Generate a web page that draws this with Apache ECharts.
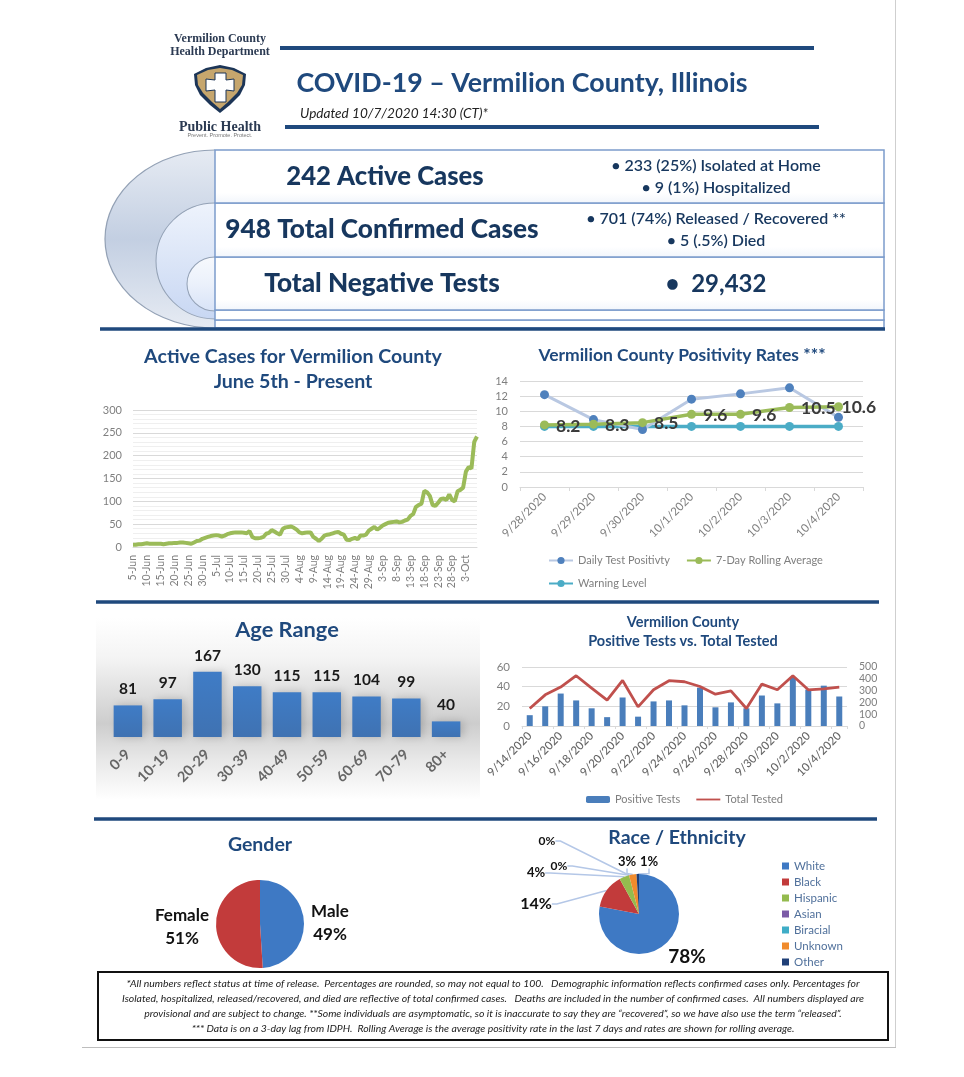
<!DOCTYPE html>
<html><head><meta charset="utf-8">
<style>html,body{margin:0;padding:0;background:#fff}#c{width:964px;height:1077px;filter:blur(.4px)}</style>
<script src="https://cdn.jsdelivr.net/npm/echarts@6/dist/echarts.min.js"></script>
</head><body><div id="c"></div>
<script>
const activeDates = ['5-Jun','6-Jun','7-Jun','8-Jun','9-Jun','10-Jun','11-Jun','12-Jun','13-Jun','14-Jun','15-Jun','16-Jun','17-Jun','18-Jun','19-Jun','20-Jun','21-Jun','22-Jun','23-Jun','24-Jun','25-Jun','26-Jun','27-Jun','28-Jun','29-Jun','30-Jun',
'1-Jul','2-Jul','3-Jul','4-Jul','5-Jul','6-Jul','7-Jul','8-Jul','9-Jul','10-Jul','11-Jul','12-Jul','13-Jul','14-Jul','15-Jul','16-Jul','17-Jul','18-Jul','19-Jul','20-Jul','21-Jul','22-Jul','23-Jul','24-Jul','25-Jul','26-Jul','27-Jul','28-Jul','29-Jul','30-Jul','31-Jul',
'1-Aug','2-Aug','3-Aug','4-Aug','5-Aug','6-Aug','7-Aug','8-Aug','9-Aug','10-Aug','11-Aug','12-Aug','13-Aug','14-Aug','15-Aug','16-Aug','17-Aug','18-Aug','19-Aug','20-Aug','21-Aug','22-Aug','23-Aug','24-Aug','25-Aug','26-Aug','27-Aug','28-Aug','29-Aug','30-Aug','31-Aug',
'1-Sep','2-Sep','3-Sep','4-Sep','5-Sep','6-Sep','7-Sep','8-Sep','9-Sep','10-Sep','11-Sep','12-Sep','13-Sep','14-Sep','15-Sep','16-Sep','17-Sep','18-Sep','19-Sep','20-Sep','21-Sep','22-Sep','23-Sep','24-Sep','25-Sep','26-Sep','27-Sep','28-Sep','29-Sep','30-Sep',
'1-Oct','2-Oct','3-Oct','4-Oct','5-Oct','6-Oct','7-Oct'];
const activeCases = [5,5,6,6,7,8,7,7,7,7,7,6,7,8,8,9,9,10,10,9,8,7,10,13,14,18,
20,22,24,25,26,25,23,25,28,30,31,32,32,32,31,30,35,22,19,19,20,22,29,31,37,34,30,27,40,43,44,
45,42,38,32,30,31,32,32,22,18,13,18,25,27,28,30,32,33,29,27,16,15,18,20,17,25,25,27,36,40,44,
38,42,47,50,53,54,55,56,54,55,58,60,68,72,88,92,95,123,120,112,92,90,97,105,106,103,115,103,100,122,
125,130,165,175,172,230,242];

const posDates = ['9/28/2020','9/29/2020','9/30/2020','10/1/2020','10/2/2020','10/3/2020','10/4/2020'];
const dailyPositivity = [12.2,8.9,7.6,11.6,12.3,13.1,9.2];
const rollingAverage = [8.2,8.3,8.5,9.6,9.6,10.5,10.6];
const warningLevel = [8,8,8,8,8,8,8];

const ageRanges = ['0-9','10-19','20-29','30-39','40-49','50-59','60-69','70-79','80+'];
const ageCounts = [81,97,167,130,115,115,104,99,40];

const testDates = ['9/14/2020','9/15/2020','9/16/2020','9/17/2020','9/18/2020','9/19/2020','9/20/2020','9/21/2020','9/22/2020','9/23/2020','9/24/2020','9/25/2020','9/26/2020','9/27/2020','9/28/2020','9/29/2020','9/30/2020','10/1/2020','10/2/2020','10/3/2020','10/4/2020'];
const positiveTests = [11,20,33,26,18,9,29,9.5,25,26,21,39,19,24,18,31,23,49,37,41,30];
const totalTested = [148,264,330,426,321,219,386,162,307,384,375,335,270,298,148,355,307,426,307,315,330];

const genderNames = ['Male','Female'];
const genderValues = [49,51];
const raceNames = ['White','Black','Hispanic','Asian','Biracial','Unknown','Other'];
const raceValues = [78,14,4,0,0,3,1];

const FONT='Lato';
const NAVY='#1f497d', DARK='#17375e', GREY='#7f7f7f';

const ch = echarts.init(document.getElementById('c'),null,{renderer:'canvas'});

function txt(x,y,text,size,opt){
  opt=opt||{};
  return {type:'text',x:x,y:y,z:opt.z||20,style:{text:text,font:(opt.italic?'italic ':'')+(opt.weight||'bold')+' '+size+'px '+(opt.family||FONT),fill:opt.fill||DARK,align:opt.align||'center',verticalAlign:'middle'}};
}
function rule(x1,x2,y,h,color){return {type:'rect',z:15,shape:{x:x1,y:y-h/2,width:x2-x1,height:h},style:{fill:color||NAVY}};}
function blob(cx,cy,rx,ry,z,c1,c2,c3){
  return {type:'circle',x:cx,y:cy,scaleX:rx/ry,z:z,shape:{cx:0,cy:0,r:ry},
    style:{fill:new echarts.graphic.LinearGradient(0,0,0,1,[{offset:0,color:c1},{offset:.5,color:c2},{offset:1,color:c3}]),stroke:'#93a1b5',lineWidth:1}};
}
function row(y,h){
  return {type:'rect',z:6,shape:{x:215,y:y,width:669,height:h},
    style:{fill:new echarts.graphic.LinearGradient(0,0,0,1,[{offset:0,color:'#ffffff'},{offset:.8,color:'#ffffff'},{offset:1,color:'#f1f5fb'}]),stroke:'#7c9ccb',lineWidth:1.5}};
}

const graphics = [
  {type:'rect',z:1,shape:{x:895,y:0,width:1,height:1048},style:{fill:'#cfcfcf'}},
  {type:'rect',z:1,shape:{x:82,y:1047,width:814,height:1},style:{fill:'#bdbdbd'}},
  txt(220,39,'Vermilion County',12,{family:'Liberation Serif',fill:'#2b3a52'}),
  txt(220,52,'Health Department',12,{family:'Liberation Serif',fill:'#2b3a52'}),
  {type:'polygon',z:10,shape:{points:[[220,65],[234,68],[246,74],[245,85],[240,95],[230,105],[220,113],[210,105],[200,95],[195,85],[194,74],[206,68]]},style:{fill:'#1c3557'}},
  {type:'polygon',z:11,shape:{points:[[220,68],[232,70],[243,75],[242,85],[237,93],[228,102],[220,109],[212,102],[203,93],[198,85],[197,75],[208,70]]},style:{fill:'#c6a66d'}},
  {type:'polygon',z:12,shape:{points:[[215,73],[226,73],[226,80],[234,79],[234,91],[226,90],[226,102],[215,102],[215,90],[206,91],[206,79],[215,80]]},style:{fill:'#ffffff',stroke:'#1c3557',lineWidth:1}},
  txt(220,127,'Public Health',14,{family:'Liberation Serif',fill:'#2b3a52'}),
  txt(220,135,'Prevent. Promote. Protect.',5.5,{family:'Liberation Sans',fill:'#777',weight:'normal'}),
  rule(280,814,48,4),
  rule(285,819,127,4),
  txt(522,83,'COVID-19 – Vermilion County, Illinois',26.8,{fill:NAVY}),
  txt(300,114,'Updated 10/7/2020 14:30 (CT)*',13.6,{align:'left',italic:true,weight:'normal',fill:'#222'}),
  blob(215,239,110,89,3,'#e6ebf3','#c3cfe2','#e6ebf3'),
  blob(215,261,59,58,4,'#eef3fc','#dbe5f7','#c8d7f3'),
  blob(215,284,28,27,5,'#f7f9fd','#ebf1fb','#d8e3f7'),
  {type:'rect',z:5,shape:{x:215,y:148,width:670,height:182},style:{fill:'#fff'}},
  row(320,8),row(310,10),row(257,53),row(203,54),row(150,53),
  rule(100,885,329,3.5),
  txt(385,177,'242 Active Cases',25.7,{weight:900}),
  txt(382,230,'948 Total Confirmed Cases',26.2,{weight:900}),
  txt(382,284,'Total Negative Tests',26.2,{weight:900}),
  txt(716,166,'• 233 (25%) Isolated at Home',16,{weight:600}),
  txt(716,188,'• 9 (1%) Hospitalized',16,{weight:600}),
  txt(716,219,'• 701 (74%) Released / Recovered **',16,{weight:600}),
  txt(716,241,'• 5 (.5%) Died',16,{weight:600}),
  txt(716,284,'•  29,432',24),
  rule(96,879,602,3.5),
  rule(94,877,819,3.5),
  {type:'rect',z:0,shape:{x:96,y:618,width:384,height:182},
    style:{fill:new echarts.graphic.LinearGradient(0,0,0,1,[{offset:0,color:'#ffffff'},{offset:.22,color:'#f4f4f4'},{offset:.58,color:'#cdcdcd'},{offset:.78,color:'#e8e8e8'},{offset:1,color:'#ffffff'}])}},
  {type:'rect',z:15,shape:{x:98,y:972,width:790,height:68},style:{fill:'#fff',stroke:'#111',lineWidth:2}},
  txt(493,984,'*All numbers reflect status at time of release.  Percentages are rounded, so may not equal to 100.   Demographic information reflects confirmed cases only. Percentages for',10.45,{italic:true,weight:'normal',fill:'#222'}),
  txt(493,999,'Isolated, hospitalized, released/recovered, and died are reflective of total confirmed cases.   Deaths are included in the number of confirmed cases.  All numbers displayed are',10.45,{italic:true,weight:'normal',fill:'#222'}),
  txt(493,1014,'provisional and are subject to change. **Some individuals are asymptomatic, so it is inaccurate to say they are “recovered”, so we have also use the term “released”.',10.45,{italic:true,weight:'normal',fill:'#222'}),
  txt(493,1029,'*** Data is on a 3-day lag from IDPH.  Rolling Average is the average positivity rate in the last 7 days and rates are shown for rolling average.',10.45,{italic:true,weight:'normal',fill:'#222'})
];

function title(text,x,y,size){
  return {text:text,left:x,top:y,textAlign:'center',textVerticalAlign:'middle',padding:0,
    textStyle:{fontFamily:FONT,fontWeight:'bold',fontSize:size,color:NAVY}};
}
const splitC='#d9d9d9';
const axisTxt=(size,extra)=>Object.assign({fontFamily:FONT,fontSize:size,color:GREY},extra||{});
function abs(l,r,t,b){return {left:l,width:r-l,top:t,height:b-t,containLabel:false};}

const genderLabelPos=[[330,923],[182,927]];
const raceLabelPos=[[687,957],[536,904],[536,873],[559,866],[547,841],[627,862],[649,862]];
const raceSize=[19,16,13,12,12,13,13];
const raceColors=['#3e79c4','#c23b3b','#94bb4e','#7b5aa6','#3fadc7','#f08b2d','#1f3f77'];

ch.setOption({
  animation:false,
  backgroundColor:'#ffffff',
  textStyle:{fontFamily:FONT},
  title:[
    title('Active Cases for Vermilion County',293,357,19.6),
    title('June 5th - Present',293,382,19.6),
    title('Vermilion County Positivity Rates ***',682,355,17.5),
    title('Age Range',287,630,21.8),
    title('Vermilion County',683,622,14.5),
    title('Positive Tests vs. Total Tested',683,641,14.5),
    title('Gender',260,845,19.5),
    title('Race / Ethnicity',677,838,19.5)
  ],
  grid:[abs(133,477,410,547),abs(520,863,381,487),abs(108,466,659,737),abs(522,847,667,726)],
  xAxis:[
    {type:'category',gridIndex:0,data:activeDates,boundaryGap:false,
      axisLine:{lineStyle:{color:splitC}},axisTick:{show:false},
      axisLabel:{rotate:90,interval:4,margin:8,...axisTxt(10.5)}},
    {type:'category',gridIndex:1,data:posDates,
      axisLine:{lineStyle:{color:splitC}},axisTick:{show:true,length:4,alignWithLabel:false,lineStyle:{color:splitC}},
      axisLabel:{rotate:45,interval:0,margin:8,...axisTxt(11.5)}},
    {type:'category',gridIndex:2,data:ageRanges,
      axisLine:{show:false},axisTick:{show:false},
      axisLabel:{rotate:45,interval:0,margin:15,...axisTxt(14.5,{fontWeight:'bold',color:'#666'})}},
    {type:'category',gridIndex:3,data:testDates,
      axisLine:{lineStyle:{color:splitC}},axisTick:{show:true,length:3,lineStyle:{color:splitC}},
      axisLabel:{rotate:45,interval:1,margin:8,...axisTxt(11.5,{fontWeight:500,color:'#666'})}}
  ],
  yAxis:[
    {type:'value',gridIndex:0,min:0,max:300,interval:50,
      axisLine:{show:false},axisTick:{show:false},axisLabel:{margin:11,...axisTxt(11)},
      splitLine:{lineStyle:{color:splitC}},
      minorTick:{show:false,splitNumber:5},minorSplitLine:{show:true,lineStyle:{color:'#efefef'}}},
    {type:'value',gridIndex:1,min:0,max:14,interval:2,
      axisLine:{show:false},axisTick:{show:false},axisLabel:{margin:12,...axisTxt(11)},
      splitLine:{lineStyle:{color:splitC}}},
    {type:'value',gridIndex:2,min:0,max:200,show:false,splitLine:{show:false}},
    {type:'value',gridIndex:3,min:0,max:60,interval:20,
      axisLine:{show:false},axisTick:{show:false},axisLabel:{margin:12,...axisTxt(11.5)},
      splitLine:{lineStyle:{color:splitC}}},
    {type:'value',gridIndex:3,position:'right',min:0,max:500,interval:100,
      axisLine:{show:false},axisTick:{show:false},
      axisLabel:{margin:12,showMinLabel:true,showMaxLabel:true,hideOverlap:false,...axisTxt(10.5)},
      splitLine:{show:false}}
  ],
  legend:[
    {left:548,top:555,itemWidth:24,itemHeight:9,itemGap:16,padding:0,data:['Daily Test Positivty','7-Day Rolling Average'],textStyle:axisTxt(11)},
    {left:548,top:578,itemWidth:24,itemHeight:9,padding:0,data:['Warning Level'],textStyle:axisTxt(11)},
    {left:586,top:794,itemWidth:24,itemHeight:7,itemGap:16,padding:0,
      data:['Positive Tests',{name:'Total Tested',icon:'path://M0 3H26V5H0Z'}],textStyle:axisTxt(11)},
    {left:782,top:860,orient:'vertical',icon:'rect',itemWidth:7,itemHeight:7,itemGap:4,padding:0,data:raceNames,textStyle:{fontFamily:FONT,fontSize:11.5,color:'#50709b',lineHeight:12}}
  ],
  series:[
    {type:'line',name:'Active Cases',xAxisIndex:0,yAxisIndex:0,data:activeCases,showSymbol:false,z:4,
      lineStyle:{color:'#9bbb59',width:4},itemStyle:{color:'#9bbb59'}},
    {type:'line',name:'Daily Test Positivty',xAxisIndex:1,yAxisIndex:1,data:dailyPositivity,symbol:'circle',symbolSize:9,
      lineStyle:{color:'#b9c8e2',width:3},itemStyle:{color:'#4f81bd'}},
    {type:'line',name:'7-Day Rolling Average',xAxisIndex:1,yAxisIndex:1,z:3,
      data:rollingAverage.map((v,i)=>i===rollingAverage.length-1?{value:v,label:{distance:-1.5}}:v),
      symbol:'circle',symbolSize:9,
      lineStyle:{color:'#9bbb59',width:3.5},itemStyle:{color:'#9bbb59'},
      label:{show:true,position:'right',distance:7,offset:[0,1],fontFamily:FONT,fontWeight:'bold',fontSize:17.5,color:'#3a3a3a'}},
    {type:'line',name:'Warning Level',xAxisIndex:1,yAxisIndex:1,data:warningLevel,symbol:'circle',symbolSize:9,z:2,
      lineStyle:{color:'#4bacc6',width:3.5},itemStyle:{color:'#4bacc6'}},
    {type:'bar',name:'Age Range',xAxisIndex:2,yAxisIndex:2,data:ageCounts,barWidth:28.5,
      itemStyle:{color:new echarts.graphic.LinearGradient(0,0,0,1,[{offset:0,color:'#3f7cc6'},{offset:1,color:'#3f72b2'}]),shadowColor:'rgba(0,0,0,.18)',shadowBlur:8,shadowOffsetX:3},
      label:{show:true,position:'top',distance:8,fontFamily:FONT,fontWeight:'bold',fontSize:15.5,color:'#1a1a1a'}},
    {type:'bar',name:'Positive Tests',xAxisIndex:3,yAxisIndex:3,data:positiveTests,barWidth:6,itemStyle:{color:'#4a7ebb'}},
    {type:'line',name:'Total Tested',xAxisIndex:3,yAxisIndex:4,data:totalTested,showSymbol:false,symbol:'none',z:4,
      lineStyle:{color:'#c0504d',width:2.8},itemStyle:{color:'#c0504d'}},
    {type:'pie',name:'Gender',center:[260,924],radius:[0,44],startAngle:90,clockwise:true,avoidLabelOverlap:false,
      data:genderNames.map((n,i)=>({name:n,value:genderValues[i]})),
      color:['#3e79c4','#c23b3b'],
      label:{show:true,position:'outside',formatter:p=>p.name+'\n'+p.value+'%',fontFamily:FONT,fontWeight:'bold',fontSize:17,lineHeight:23,color:'#111'},
      labelLine:{show:false},
      labelLayout:p=>({x:genderLabelPos[p.dataIndex][0],y:genderLabelPos[p.dataIndex][1],align:'center',verticalAlign:'middle'})},
    {type:'pie',name:'Race / Ethnicity',center:[639,914],radius:[0,40],startAngle:90,clockwise:true,avoidLabelOverlap:false,
      data:raceNames.map((n,i)=>({name:n,value:raceValues[i],
        label:{fontSize:raceSize[i]},labelLine:{show:i!==0}})),
      color:raceColors,
      label:{show:true,position:'outside',formatter:p=>p.value+'%',fontFamily:FONT,fontWeight:'bold',color:'#111',minMargin:0},
      labelLine:{show:true,length:5,length2:5,lineStyle:{color:'#b4c7e7',width:1.5}},
      labelLayout:p=>({x:raceLabelPos[p.dataIndex][0],y:raceLabelPos[p.dataIndex][1],align:'center',verticalAlign:'middle'})}
  ],
  graphic:{elements:graphics}
});
</script></body></html>
